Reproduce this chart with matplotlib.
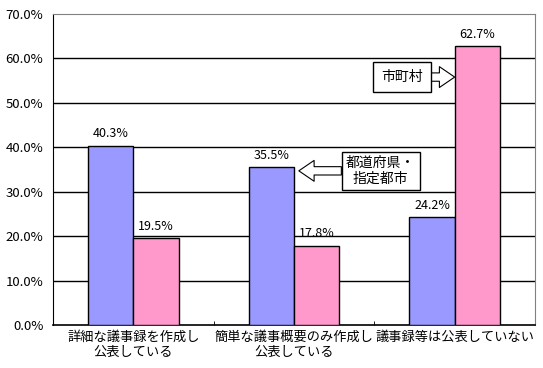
import matplotlib
matplotlib.use('Agg')
import matplotlib.pyplot as plt
import numpy as np

plt.rcParams['font.family'] = ['Noto Sans CJK JP', 'DejaVu Sans']

categories = ['詳細な議事録を作成し\n公表している', '簡単な議事概要のみ作成し\n公表している', '議事録等は公表していない']
pref = [40.3, 35.5, 24.2]      # 都道府県・指定都市
muni = [19.5, 17.8, 62.7]      # 市町村
yticks = [0, 10, 20, 30, 40, 50, 60, 70]

fig = plt.figure(figsize=(5.43, 3.68), dpi=100)
ax = fig.add_axes([0.0976, 0.1168, 0.8877, 0.8452])

x = np.arange(len(categories))
w = 0.283
b1 = ax.bar(x - w/2, pref, w, color='#9999FF', edgecolor='black', linewidth=1, zorder=3)
b2 = ax.bar(x + w/2, muni, w, color='#FF99CC', edgecolor='black', linewidth=1, zorder=3)

for bars, vals in [(b1, pref), (b2, muni)]:
    for r, v in zip(bars, vals):
        ax.text(r.get_x() + r.get_width()/2, v + 1.3, '%.1f%%' % v,
                ha='center', va='bottom', fontsize=9, zorder=4)

ax.set_xlim(-0.5, 2.5)
ax.set_ylim(0, 70)
ax.set_yticks(yticks)
ax.set_yticklabels(['%.1f%%' % t for t in yticks], fontsize=9.5)
ax.set_xticks(x)
ax.set_xticklabels(categories, fontsize=9.5, linespacing=1.25)
ax.tick_params(axis='x', length=0, pad=4)
ax.tick_params(axis='y', length=0, pad=7)
ax.set_xticks([0.5, 1.5], minor=True)
ax.tick_params(axis='x', which='minor', direction='in', length=3, color='black')

for t in yticks[1:-1]:
    ax.axhline(t, color='black', linewidth=1, zorder=1)

ax.spines['left'].set_color('black')
ax.spines['bottom'].set_color('black')
ax.spines['bottom'].set_linewidth(1.2)
ax.spines['top'].set_color('#808080')
ax.spines['right'].set_color('#808080')

# callouts
arrow = dict(arrowstyle='simple,head_length=1.1,head_width=1.5,tail_width=0.6',
             fc='white', ec='black', lw=0.8, shrinkA=0, shrinkB=0)
ax.annotate('都道府県・\n指定都市', xy=(1.03, 34.7), xytext=(1.54, 34.7),
            ha='center', va='center', fontsize=10, linespacing=1.1, zorder=5,
            bbox=dict(boxstyle='square,pad=0.3', fc='white', ec='black', lw=1),
            arrowprops=arrow)
ax.annotate('市町村', xy=(2.0, 55.8), xytext=(1.67, 55.8),
            ha='center', va='center', fontsize=10, zorder=5,
            bbox=dict(boxstyle='square,pad=0.6', fc='white', ec='black', lw=1),
            arrowprops=arrow)

fig.savefig('out.png', dpi=100)
